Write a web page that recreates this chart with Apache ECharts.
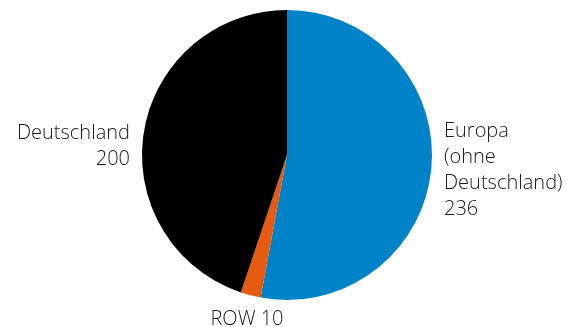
<!DOCTYPE html>
<html><head><meta charset="utf-8">
<script src="https://cdn.jsdelivr.net/npm/echarts@6/dist/echarts.min.js"></script>
<style>html,body{margin:0;padding:0;background:#fff}#c{width:570px;height:327px}</style>
</head><body><div id="c"></div>
<script>
const categories = ["Europa\n(ohne\nDeutschland)", "ROW", "Deutschland"];
const values = [236, 10, 200];
const colors = ["#0082C9", "#E65A12", "#000000"];

const chart = echarts.init(document.getElementById('c'), null, {renderer: 'canvas'});
const labelPos = [
  {x: 444, y: 170, align: 'left'},
  {x: 247, y: 319, align: 'center'},
  {x: 130, y: 146, align: 'right'}
];
chart.setOption({
  animation: false,
  series: [{
    type: 'pie',
    center: [287, 155],
    radius: [0, 145],
    startAngle: 90,
    clockwise: true,
    data: categories.map((n, i) => ({name: n, value: values[i], itemStyle: {color: colors[i]}})),
    label: {
      show: true,
      position: 'outside',
      color: '#1a1a1a',
      fontFamily: 'Open Sans',
      fontWeight: 300,
      fontSize: 20,
      lineHeight: 26,
      overflow: 'none',
      width: 200,
      formatter: p => p.dataIndex === 1 ? p.name + ' ' + p.value : p.name + '\n' + p.value
    },
    labelLine: {show: false},
    labelLayout: p => ({x: labelPos[p.dataIndex].x, y: labelPos[p.dataIndex].y, align: labelPos[p.dataIndex].align, verticalAlign: 'middle'})
  }]
});
</script></body></html>
